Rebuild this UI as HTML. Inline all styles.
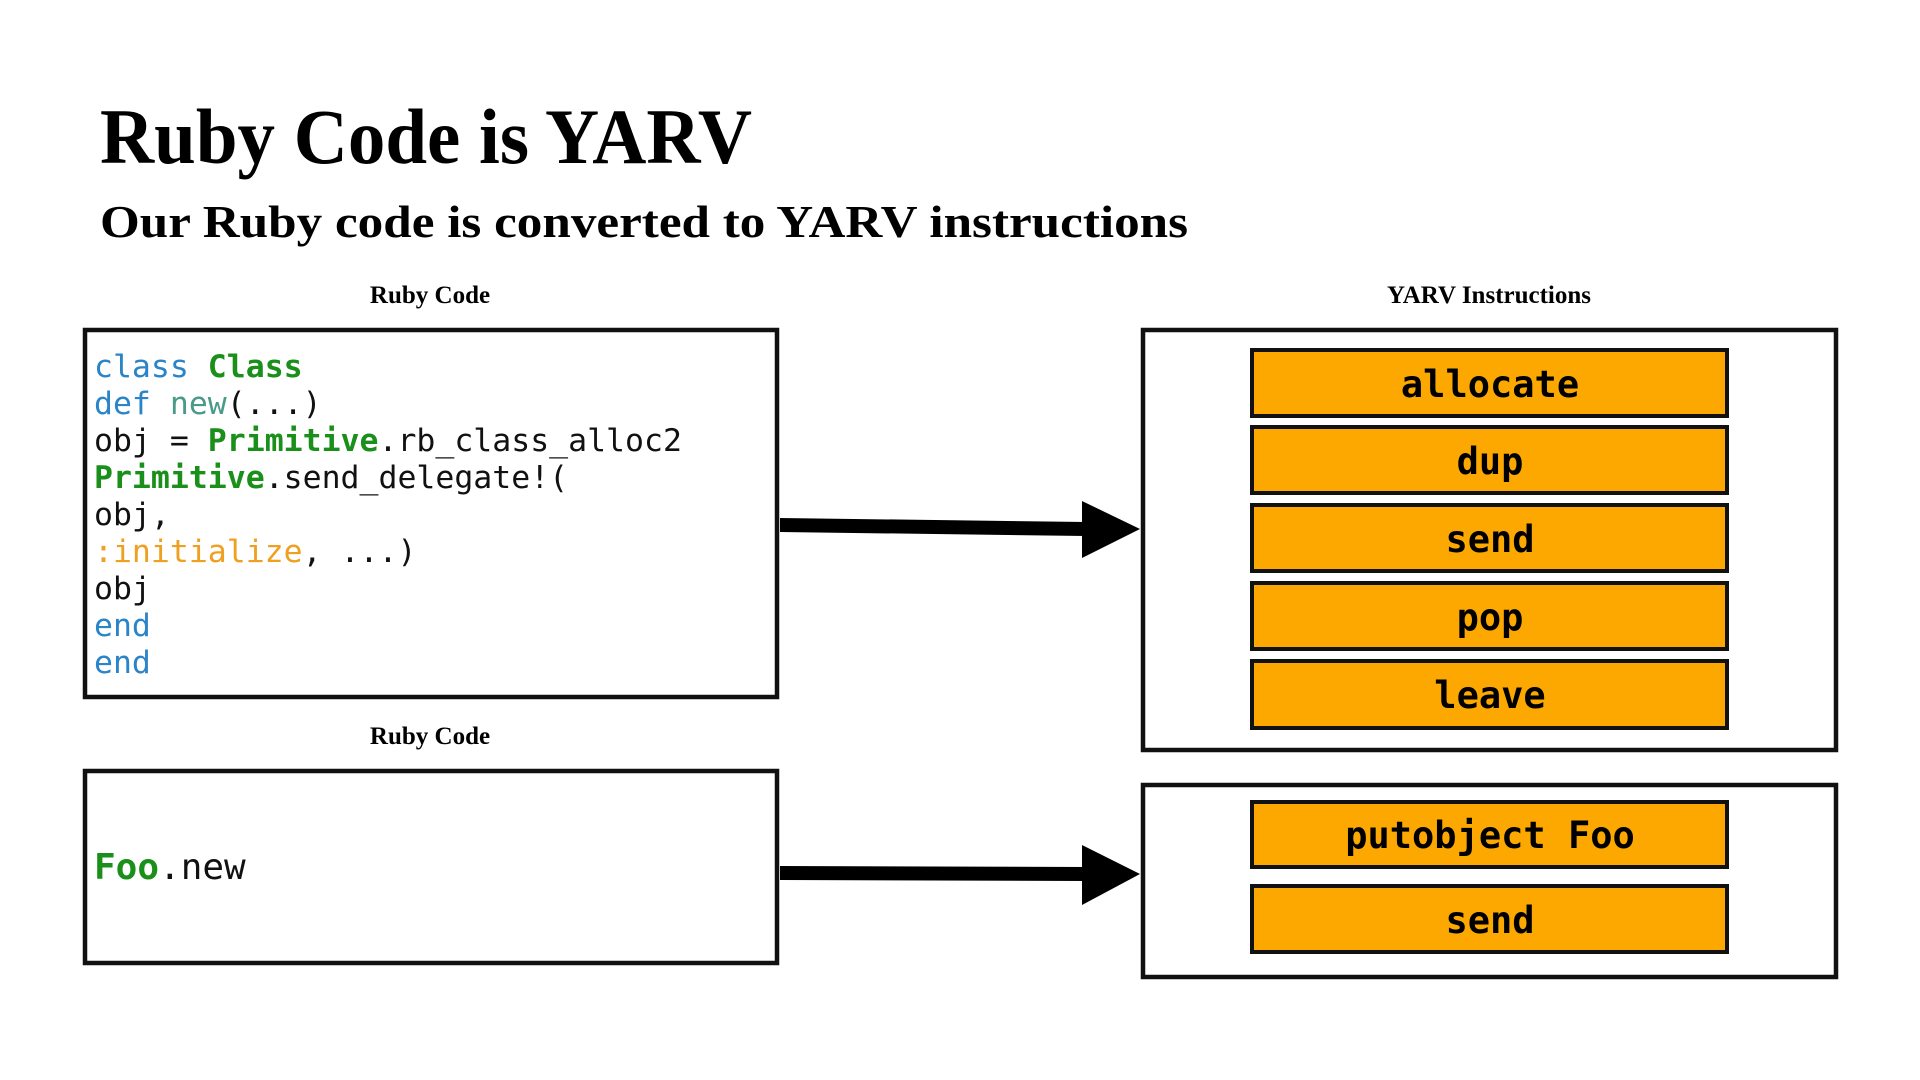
<!DOCTYPE html>
<html><head><meta charset="utf-8"><style>
html,body{margin:0;padding:0;background:#fff;}
svg{display:block}
.mono{font-family:"DejaVu Sans Mono","Liberation Mono",monospace;}
.serif{font-family:"Liberation Serif",serif;font-weight:bold;}
</style></head><body>
<svg width="1920" height="1080" viewBox="0 0 1920 1080" xmlns="http://www.w3.org/2000/svg">
<rect width="1920" height="1080" fill="#fff"/>
<text x="100" y="163" class="serif" font-size="78" fill="#000" textLength="652" lengthAdjust="spacingAndGlyphs">Ruby Code is YARV</text>
<text x="100" y="237" class="serif" font-size="46" fill="#000" textLength="1088" lengthAdjust="spacingAndGlyphs">Our Ruby code is converted to YARV instructions</text>
<text x="430" y="303" class="serif" font-size="25" text-anchor="middle">Ruby Code</text>
<text x="1489" y="303" class="serif" font-size="25" text-anchor="middle">YARV Instructions</text>
<text x="430" y="744" class="serif" font-size="25" text-anchor="middle">Ruby Code</text>

<g fill="none" stroke="#111" stroke-width="4.5">
<rect x="85" y="330" width="692" height="367"/>
<rect x="85" y="771" width="692" height="192"/>
<rect x="1143" y="330" width="693" height="420"/>
<rect x="1143" y="785" width="693" height="192"/>
</g>

<g fill="#FCA800" stroke="#111" stroke-width="4">
<rect x="1252" y="350" width="475" height="66"/>
<rect x="1252" y="427" width="475" height="66"/>
<rect x="1252" y="505" width="475" height="66"/>
<rect x="1252" y="583" width="475" height="66"/>
<rect x="1252" y="661" width="475" height="67"/>
<rect x="1252" y="802" width="475" height="65"/>
<rect x="1252" y="886" width="475" height="66"/>
</g>
<g class="mono" font-size="37" font-weight="bold" text-anchor="middle" fill="#000">
<text x="1490" y="397">allocate</text>
<text x="1490" y="474">dup</text>
<text x="1490" y="552">send</text>
<text x="1490" y="630">pop</text>
<text x="1490" y="708">leave</text>
<text x="1490" y="848">putobject Foo</text>
<text x="1490" y="933">send</text>
</g>

<g class="mono" font-size="31.5" fill="#111" xml:space="preserve">
<text x="94" y="377"><tspan fill="#2a84c8">class</tspan> <tspan fill="#1a8f1a" font-weight="bold">Class</tspan></text>
<text x="94" y="414">  <tspan fill="#2a84c8">def</tspan> <tspan fill="#4a9a8a">new</tspan>(...)</text>
<text x="94" y="451">    obj = <tspan fill="#1a8f1a" font-weight="bold">Primitive</tspan>.rb_class_alloc2</text>
<text x="94" y="488">    <tspan fill="#1a8f1a" font-weight="bold">Primitive</tspan>.send_delegate!(</text>
<text x="94" y="525">      obj,</text>
<text x="94" y="562">      <tspan fill="#f0a020">:initialize</tspan>, ...)</text>
<text x="94" y="599">    obj</text>
<text x="94" y="636">  <tspan fill="#2a84c8">end</tspan></text>
<text x="94" y="673"><tspan fill="#2a84c8">end</tspan></text>
<text x="94" y="879" font-size="36"><tspan fill="#1a8f1a" font-weight="bold">Foo</tspan>.new</text>
</g>

<g fill="#000">
<polygon points="780,518 1086,522 1086,536 780,532"/>
<polygon points="1082,501 1140,529 1082,558"/>
<polygon points="780,866 1086,867 1086,881 780,880"/>
<polygon points="1082,845 1140,874 1082,905"/>
</g>
</svg>
</body></html>
